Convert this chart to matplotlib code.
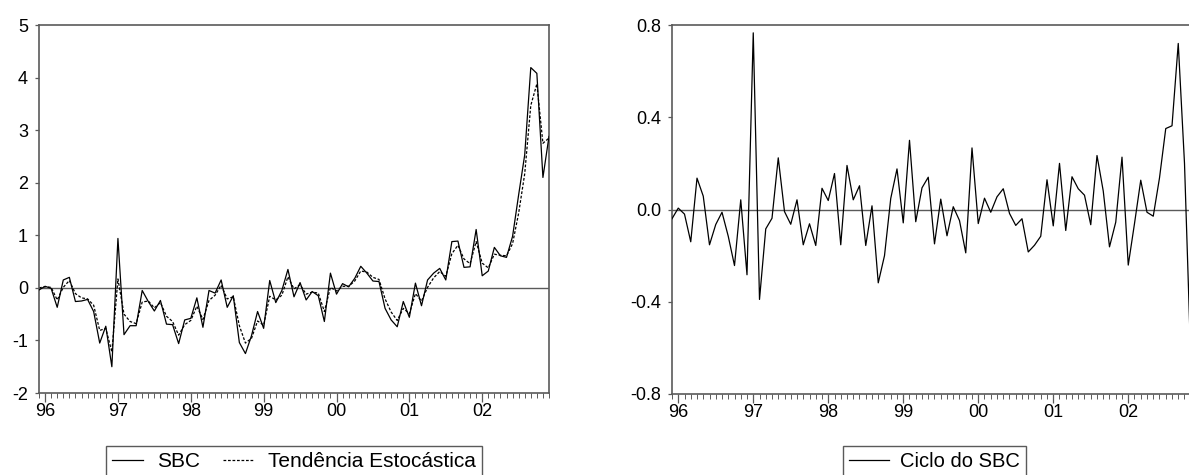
import numpy as np
import matplotlib
matplotlib.use('Agg')
import matplotlib.pyplot as plt
from matplotlib.ticker import FixedLocator

plt.rcParams['font.family'] = ['Liberation Sans', 'DejaVu Sans']

# monthly observations, 1995:12 .. 2002:12
year_labels = ['96', '97', '98', '99', '00', '01', '02']

sbc = [-0.04, 0.03, -0.01, -0.37, 0.15, 0.20, -0.26, -0.25, -0.22, -0.45,
       -1.05, -0.73, -1.50, 0.94, -0.89, -0.72, -0.72, -0.05, -0.26, -0.44,
       -0.24, -0.69, -0.70, -1.06, -0.61, -0.58, -0.19, -0.75, -0.05, -0.10,
       0.15, -0.37, -0.15, -1.04, -1.25, -0.91, -0.45, -0.77, 0.14, -0.28,
       -0.05, 0.35, -0.17, 0.10, -0.23, -0.07, -0.15, -0.64, 0.28, -0.12,
       0.08, 0.02, 0.18, 0.41, 0.28, 0.13, 0.12, -0.39, -0.61, -0.74,
       -0.26, -0.56, 0.09, -0.34, 0.15, 0.28, 0.37, 0.15, 0.88, 0.89,
       0.39, 0.40, 1.11, 0.23, 0.32, 0.77, 0.61, 0.58, 0.98, 1.77,
       2.53, 4.19, 4.08, 2.10, 2.88]

tendencia = [0.00, 0.02, 0.01, -0.23, 0.01, 0.14, -0.11, -0.19, -0.21, -0.33,
             -0.81, -0.77, -1.22, 0.17, -0.50, -0.64, -0.68, -0.27, -0.25, -0.38,
             -0.28, -0.54, -0.64, -0.90, -0.70, -0.62, -0.35, -0.60, -0.24, -0.14,
             0.05, -0.21, -0.17, -0.72, -1.05, -0.96, -0.63, -0.71, -0.16, -0.23,
             -0.14, 0.21, -0.02, 0.06, -0.12, -0.08, -0.10, -0.45, 0.01, -0.06,
             0.03, 0.03, 0.13, 0.32, 0.30, 0.20, 0.16, -0.21, -0.46, -0.62,
             -0.39, -0.49, -0.11, -0.25, 0.01, 0.19, 0.31, 0.22, 0.65, 0.81,
             0.55, 0.46, 0.88, 0.47, 0.38, 0.64, 0.62, 0.61, 0.84, 1.42,
             2.17, 3.47, 3.88, 2.75, 2.85]

ciclo = [-0.040, 0.006, -0.020, -0.140, 0.136, 0.058, -0.153, -0.065, -0.012, -0.116,
         -0.243, 0.042, -0.283, 0.766, -0.390, -0.084, -0.038, 0.224, -0.009, -0.064,
         0.042, -0.153, -0.062, -0.156, 0.092, 0.039, 0.156, -0.153, 0.191, 0.042,
         0.103, -0.156, 0.016, -0.318, -0.200, 0.048, 0.176, -0.058, 0.300, -0.053,
         0.094, 0.140, -0.149, 0.045, -0.114, 0.012, -0.048, -0.188, 0.267, -0.061,
         0.049, -0.012, 0.055, 0.090, -0.017, -0.069, -0.040, -0.184, -0.155, -0.116,
         0.129, -0.071, 0.200, -0.091, 0.142, 0.090, 0.062, -0.066, 0.234, 0.080,
         -0.162, -0.055, 0.227, -0.241, -0.061, 0.127, -0.012, -0.029, 0.137, 0.351,
         0.363, 0.720, 0.200, -0.650, 0.030]

FRAME = '#5a5a5a'


def style_axes(ax, yticks, ylabels):
    n = len(sbc)
    x_major = [1 + 12 * i for i in range(len(year_labels))]
    ax.set_xlim(0, n - 1)
    ax.xaxis.set_major_locator(FixedLocator(x_major))
    ax.xaxis.set_minor_locator(FixedLocator(range(n)))
    ax.set_xticklabels(year_labels)
    ax.set_yticks(yticks)
    ax.set_yticklabels(ylabels)
    ax.tick_params(axis='x', which='major', direction='out', length=6.5, width=0.9,
                   color=FRAME, labelsize=13, pad=0.5)
    ax.tick_params(axis='x', which='minor', direction='out', length=3.3, width=0.7,
                   color=FRAME)
    ax.tick_params(axis='y', direction='out', length=3, width=0.9, color=FRAME,
                   labelsize=13, pad=5)
    for s in ax.spines.values():
        s.set_color(FRAME)
        s.set_linewidth(1.2)
    ax.axhline(0, color=FRAME, lw=1.0, zorder=1)


fig = plt.figure(figsize=(11.89, 4.75), dpi=100)

# left panel: series and its stochastic trend
ax1 = fig.add_axes([39 / 1189, 82 / 475, 510 / 1189, 368 / 475])
x = np.arange(len(sbc))
ax1.plot(x, sbc, color='black', lw=0.9, label='SBC', zorder=3)
ax1.plot(x, tendencia, color='black', lw=0.9, ls=(0, (2.2, 1.4)),
         label='Tendência Estocástica', zorder=2)
ax1.set_ylim(-2, 5)
style_axes(ax1, [-2, -1, 0, 1, 2, 3, 4, 5], ['-2', '-1', '0', '1', '2', '3', '4', '5'])
leg1 = fig.legend(handles=ax1.get_lines()[:2], loc='upper center',
                  bbox_to_anchor=(294 / 1189, 29 / 475), ncol=2, fontsize=15,
                  handlelength=1.45, handletextpad=0.7, columnspacing=1.1,
                  borderpad=0.3, borderaxespad=0, fancybox=False,
                  framealpha=1, edgecolor=FRAME)
leg1.get_frame().set_linewidth(1.0)

# right panel: cycle, drawn past the right border
ax2 = fig.add_axes([672 / 1189, 81 / 475, 525 / 1189, 369 / 475])
ax2.plot(x, ciclo, color='black', lw=0.9, label='Ciclo do SBC', zorder=3)
ax2.set_ylim(-0.8, 0.8)
style_axes(ax2, [-0.8, -0.4, 0.0, 0.4, 0.8], ['-0.8', '-0.4', '0.0', '0.4', '0.8'])
leg2 = fig.legend(handles=ax2.get_lines()[:1], loc='upper center',
                  bbox_to_anchor=(934.5 / 1189, 29 / 475), fontsize=14.5,
                  handlelength=1.95, handletextpad=0.55,
                  borderpad=0.3, borderaxespad=0, fancybox=False,
                  framealpha=1, edgecolor=FRAME)
leg2.get_frame().set_linewidth(1.0)

fig.savefig('out.png', dpi=100)
